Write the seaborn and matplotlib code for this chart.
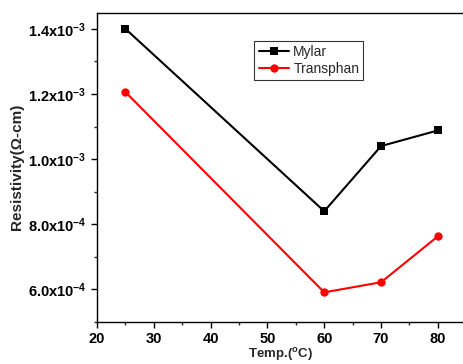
import math
import matplotlib
matplotlib.use("Agg")
import matplotlib.pyplot as plt
from matplotlib.ticker import MultipleLocator, FuncFormatter
import pandas as pd
import seaborn as sns

temps = [25, 60, 70, 80]
mylar = [1.40e-3, 8.40e-4, 1.04e-3, 1.088e-3]
transphan = [1.206e-3, 5.91e-4, 6.22e-4, 7.63e-4]

df = pd.DataFrame({
    "Temp": temps * 2,
    "Resistivity": mylar + transphan,
    "Film": ["Mylar"] * len(temps) + ["Transphan"] * len(temps),
})

sns.set_style("ticks")
plt.rcParams["font.family"] = ["Liberation Sans", "DejaVu Sans"]
plt.rcParams["mathtext.fontset"] = "custom"
plt.rcParams["mathtext.rm"] = "Liberation Sans:bold"
plt.rcParams["mathtext.bf"] = "Liberation Sans:bold"
plt.rcParams["mathtext.default"] = "bf"

fig = plt.figure(figsize=(4.64, 3.64), dpi=100)
ax = fig.add_axes([97 / 464, 1 - 322 / 364, 1 - 97 / 464, (322 - 12.5) / 364])

sns.lineplot(data=df, x="Temp", y="Resistivity", hue="Film", style="Film",
             markers={"Mylar": "s", "Transphan": "o"}, dashes=False,
             palette={"Mylar": "black", "Transphan": "red"},
             markersize=6, markeredgewidth=0, linewidth=1.5, ax=ax)

ax.set_xlim(20, 84.6)
ax.set_ylim(5.0e-4, 1.45e-3)
ax.xaxis.set_major_locator(MultipleLocator(10))
ax.xaxis.set_minor_locator(MultipleLocator(5))
ax.yaxis.set_minor_locator(MultipleLocator(1e-4))


def fmt(v, pos):
    # mantissa x 10^exponent, like the original axis
    e = int(math.floor(math.log10(v) + 1e-9))
    m = v / 10 ** e
    return r"$%.1fx10^{%d}$" % (m, e)


ax.yaxis.set_ticks([6e-4, 8e-4, 1.0e-3, 1.2e-3, 1.4e-3])
ax.yaxis.set_major_formatter(FuncFormatter(fmt))
ax.tick_params(axis="both", which="major", direction="out", length=4, width=1,
               labelsize=10.5, colors="black")
ax.tick_params(axis="both", which="minor", direction="out", length=2.5, width=1)
for lab in ax.get_xticklabels():
    lab.set_fontweight("bold")

for side in ["left", "bottom", "top"]:
    ax.spines[side].set_linewidth(1.0)
    ax.spines[side].set_color("black")
ax.spines["right"].set_visible(False)

ax.set_xlabel(r"Temp.($\mathregular{^{o}}$C)", fontsize=9.5, fontweight="bold", labelpad=0)
ax.set_ylabel("Resistivity(Ω-cm)", fontsize=11, fontweight="bold", labelpad=3)

leg = ax.legend(title=None, loc="upper left", bbox_to_anchor=(0.41, 0.93),
                frameon=True, fancybox=False, edgecolor="black", fontsize=10,
                handlelength=2.2, borderpad=0.3, labelspacing=0.2, handletextpad=0.3)
leg.get_frame().set_linewidth(0.8)

fig.savefig("out.png", dpi=100)
